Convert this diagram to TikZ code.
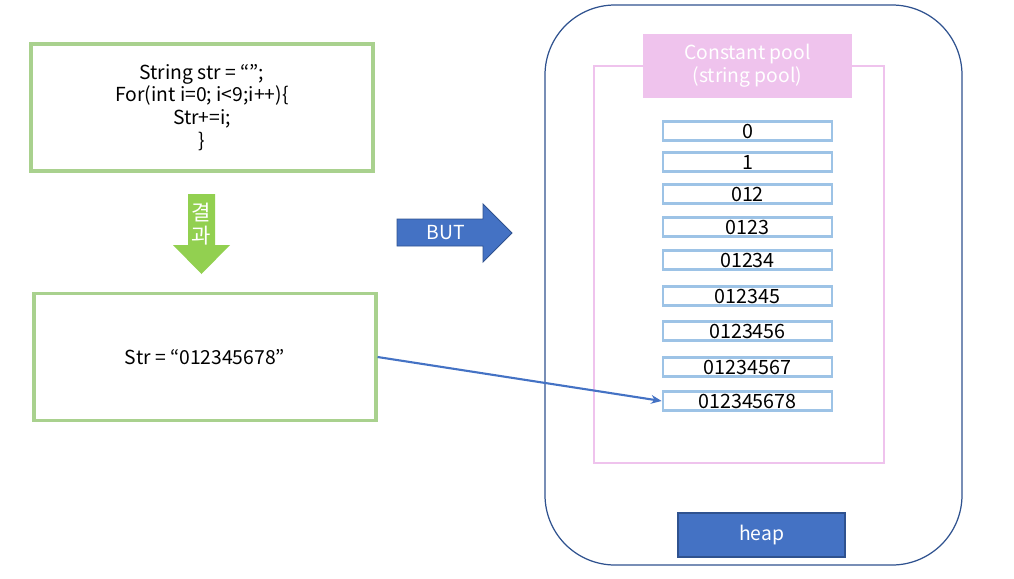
\documentclass[tikz,border=0pt]{standalone}
\usepackage{fontspec}
\setmainfont{Noto Sans CJK KR}
\usepackage{tikz}
\usetikzlibrary{arrows.meta}

\definecolor{boxgreen}{HTML}{A9D18E}
\definecolor{arrowgreen}{HTML}{92D050}
\definecolor{mainblue}{HTML}{4472C4}
\definecolor{darkblue}{HTML}{2F528F}
\definecolor{poolpink}{HTML}{EFC3ED}
\definecolor{itemblue}{HTML}{9DC3E6}

\begin{document}
\begin{tikzpicture}[
        x=0.02cm, y=-0.02cm,
        codebox/.style={draw=boxgreen, line width=1.8pt, rectangle, minimum width=6.84cm, minimum height=2.54cm, align=center, font=\fontsize{11}{13}\selectfont},
        poolitem/.style={draw=itemblue, line width=1.6pt, rectangle, minimum width=3.38cm, minimum height=0.38cm, inner ysep=0pt, font=\fontsize{11.2}{12}\selectfont},
        tag/.style={rectangle, text=white, align=center, font=\fontsize{11}{13}\selectfont},
        link/.style={-{Stealth[length=6pt, width=5pt]}, draw=mainblue, line width=1.2pt}
    ]
        \useasboundingbox (0,0) rectangle (1014,578);

        % Code side
        \node (code) [codebox] at (202,107.5) {String str = “”;\\For(int i=0; i<9;i++)\{\\Str+=i;\\\}};
        \node (res) [codebox] at (205,357) {Str = “012345678”};

        % Result arrow
        \fill[arrowgreen] (188,194) -- (215,194) -- (215,245) -- (230,245) -- (201.5,274)
            -- (173,245) -- (188,245) -- cycle;
        \node (result) [tag, font=\fontsize{12}{13.5}\selectfont] at (201.5,224) {결\\과};

        % BUT arrow
        \draw[darkblue, fill=mainblue, line width=0.5pt] (397,219) -- (483,219) -- (483,204)
            -- (512,233) -- (483,262) -- (483,246) -- (397,246) -- cycle;
        \node (but) [tag] at (446,233) {BUT};

        % Heap
        \draw[darkblue, line width=0.7pt, rounded corners=1.4cm] (545,5) rectangle (962,565);
        \node (heap) [tag, fill=mainblue, draw=darkblue, line width=0.7pt, minimum width=3.34cm, minimum height=0.88cm] at (761.5,535) {heap};

        % String pool
        \draw[poolpink, line width=1.4pt] (594,66) rectangle (884,463);
        \node (pool) [tag, fill=poolpink, minimum width=4.18cm, minimum height=1.28cm] at (747.5,66) {Constant pool\\(string pool)};

        \foreach \t/\y [count=\i] in {0/131, 1/162, 012/194, 0123/227, 01234/260, 012345/296, 0123456/331, 01234567/367, 012345678/401}
            \node (p\i) [poolitem] at (747.5,\y) {\t};

        % Reference
        \draw [link] (res.east) -- (p9.west);
    \end{tikzpicture}
\end{document}
